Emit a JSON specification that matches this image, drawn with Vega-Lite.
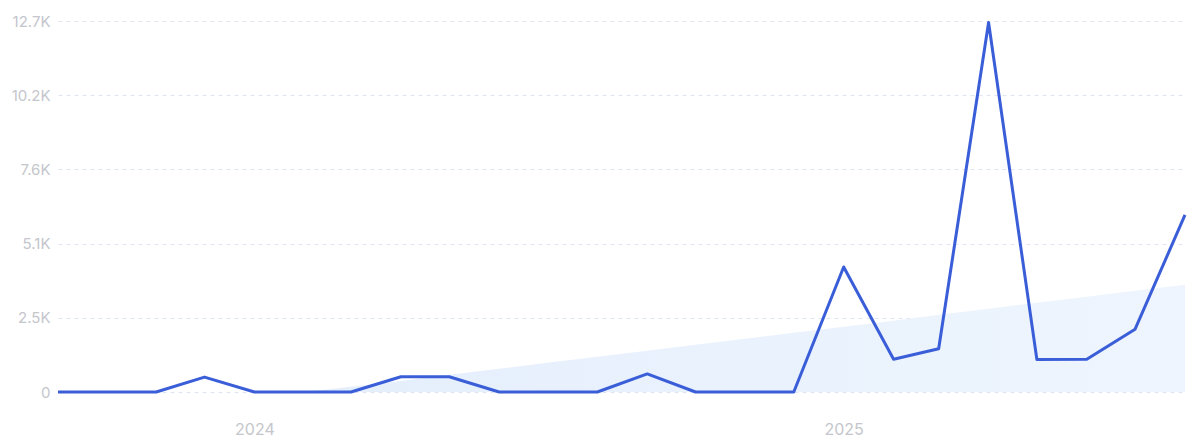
{
  "$schema": "https://vega.github.io/schema/vega-lite/v6.json",
  "width": 1127,
  "height": 371,
  "autosize": {"type": "none"},
  "padding": {"left": 58, "top": 21, "right": 15, "bottom": 53},
  "background": "white",
  "config": {
    "view": {"stroke": null},
    "font": "Inter",
    "axis": {"labelFont": "Inter", "labelFontSize": 15, "labelColor": "#c4c6cc", "domain": false, "ticks": false, "title": null}
  },
  "data": {
    "values": [
      {"date": "2023-09-01", "value": 0, "trend": 0},
      {"date": "2023-10-01", "value": 0, "trend": 0},
      {"date": "2023-11-01", "value": 0, "trend": 0},
      {"date": "2023-12-01", "value": 510, "trend": 0},
      {"date": "2024-01-01", "value": 0, "trend": 0},
      {"date": "2024-02-01", "value": 0, "trend": 0},
      {"date": "2024-03-01", "value": 0, "trend": 176},
      {"date": "2024-04-01", "value": 520, "trend": 380},
      {"date": "2024-05-01", "value": 520, "trend": 589},
      {"date": "2024-06-01", "value": 0, "trend": 794},
      {"date": "2024-07-01", "value": 0, "trend": 999},
      {"date": "2024-08-01", "value": 0, "trend": 1204},
      {"date": "2024-09-01", "value": 620, "trend": 1409},
      {"date": "2024-10-01", "value": 0, "trend": 1618},
      {"date": "2024-11-01", "value": 0, "trend": 1822},
      {"date": "2024-12-01", "value": 0, "trend": 2027},
      {"date": "2025-01-01", "value": 4280, "trend": 2232},
      {"date": "2025-02-01", "value": 1120, "trend": 2437},
      {"date": "2025-03-01", "value": 1480, "trend": 2642},
      {"date": "2025-04-01", "value": 12650, "trend": 2851},
      {"date": "2025-05-01", "value": 1110, "trend": 3056},
      {"date": "2025-06-01", "value": 1120, "trend": 3260},
      {"date": "2025-07-01", "value": 2150, "trend": 3465},
      {"date": "2025-08-01", "value": 6060, "trend": 3670}
    ]
  },
  "encoding": {
    "x": {
      "field": "date",
      "type": "temporal",
      "scale": {"type": "utc", "domain": ["2023-09-01", "2025-08-01"]},
      "axis": {
        "values": ["2024-01-01", "2025-01-01"],
        "format": "%Y",
        "formatType": "utc",
        "grid": false,
        "labelFontSize": 16,
        "labelPadding": 29,
        "labelAlign": "center"
      }
    }
  },
  "layer": [
    {
      "mark": {
        "type": "area",
        "color": {
          "gradient": "linear",
          "x1": 0, "x2": 1, "y1": 0, "y2": 0,
          "stops": [
            {"offset": 0, "color": "#e2edfb"},
            {"offset": 1, "color": "#eef5fe"}
          ]
        }
      },
      "encoding": {
        "y": {
          "field": "trend",
          "type": "quantitative",
          "scale": {"domain": [0, 12700], "nice": false, "zero": true},
          "axis": {
            "values": [0, 2540, 5080, 7620, 10160, 12700],
            "labelExpr": "datum.value == 0 ? '0' : format(datum.value / 1000, '.1f') + 'K'",
            "labelPadding": 8,
            "grid": true,
            "gridColor": "#dfe6f3",
            "gridDash": [4, 4],
            "gridWidth": 1
          }
        }
      }
    },
    {
      "mark": {"type": "line", "color": "#3a5dd8", "strokeWidth": 3, "strokeJoin": "round"},
      "encoding": {
        "y": {"field": "value", "type": "quantitative"}
      }
    }
  ]
}
